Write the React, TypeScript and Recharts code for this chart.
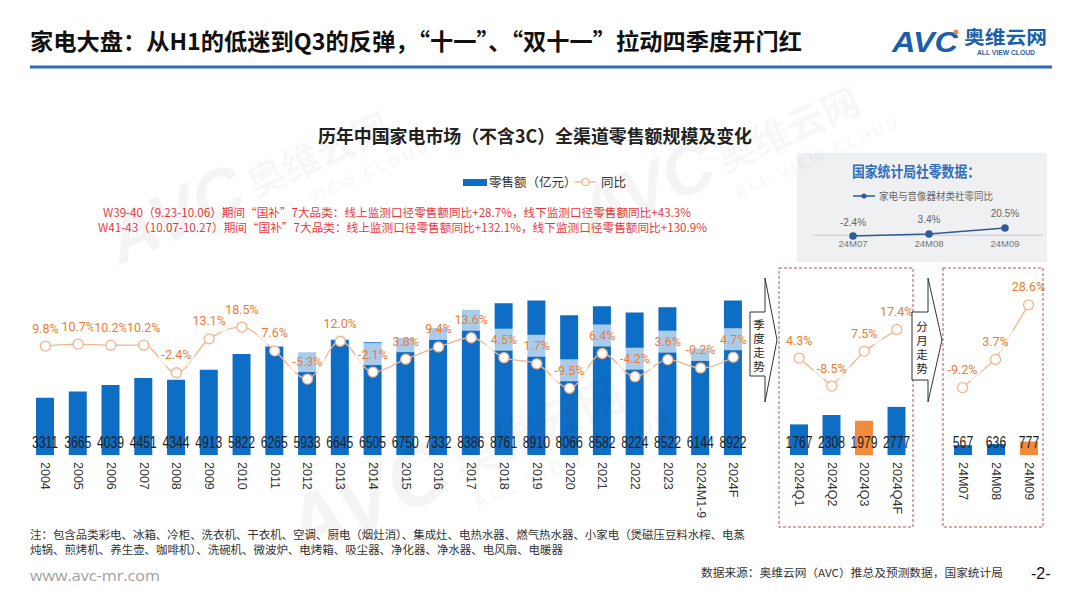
import React from 'react';
import { ComposedChart, LineChart, Bar, Line, XAxis, YAxis, Cell, LabelList, ReferenceLine } from 'recharts';

// 年度
const years = ['2004', '2005', '2006', '2007', '2008', '2009', '2010', '2011', '2012', '2013', '2014', '2015', '2016', '2017', '2018', '2019', '2020', '2021', '2022', '2023', '2024M1-9', '2024F'];
const yearSales = [3311, 3665, 4039, 4451, 4344, 4913, 5822, 6265, 5933, 6645, 6505, 6750, 7332, 8386, 8761, 8910, 8066, 8582, 8224, 8522, 6144, 8922];
const yearYoy = [9.8, 10.7, 10.2, 10.2, -2.4, 13.1, 18.5, 7.6, -5.3, 12.0, -2.1, 3.8, 9.4, 13.6, 4.5, 1.7, -9.5, 6.4, -4.2, 3.6, -0.2, 4.7];

// 季度
const quarters = ['2024Q1', '2024Q2', '2024Q3', '2024Q4F'];
const quarterSales = [1767, 2308, 1979, 2777];
const quarterYoy = [4.3, -8.5, 7.5, 17.4];

// 分月
const months = ['24M07', '24M08', '24M09'];
const monthSales = [567, 636, 777];
const monthYoy = [-9.2, 3.7, 28.6];

// 国家统计局社零
const statMonths = ['24M07', '24M08', '24M09'];
const statYoy = [-2.4, 3.4, 20.5];

const BLUE = '#0E6EC5';
const ORANGE = '#F08C3C';
const PCT = '#EC7C30';
const LINE = '#F2B48A';
const RED = '#E8383D';
const CJK = "'Noto Sans CJK SC', 'Noto Sans', sans-serif";
const NUM = "'Liberation Sans', Arial, sans-serif";

const CatTick = (props: any) => {
  const { x, y, payload } = props;
  return (
    <text
      transform={`translate(${x},${y + 7}) rotate(90)`}
      textAnchor="start"
      dominantBaseline="central"
      fontSize={12.5}
      fill="#333"
      fontFamily={NUM}
    >
      {payload.value}
    </text>
  );
};

const ValueLabel = (props: any) => {
  const { x, y, width, height, value } = props;
  const cx = x + width / 2;
  const cy = y + height - 13;
  return (
    <text
      transform={`translate(${cx},${cy}) scale(0.76,1)`}
      textAnchor="middle"
      dominantBaseline="central"
      fontSize={16}
      fill="#1f1f1f"
      fontFamily={NUM}
    >
      {value}
    </text>
  );
};

const PctLabel = (props: any) => {
  const { x, y, value } = props;
  if (value == null) return null;
  const cy = y - 18;
  return (
    <g>
      <rect x={x - 18} y={cy - 11} width={36} height={22} fill="#fff" fillOpacity={0.65} />
      <text x={x} y={cy} textAnchor="middle" dominantBaseline="central" fill={PCT} fontSize={12.5} fontFamily="Roboto, sans-serif">
        {value.toFixed(1)}%
      </text>
    </g>
  );
};

function Panel({ cats, sales, yoy, hot, left, width, curve }: any) {
  const data = cats.map((c: string, i: number) => ({ cat: c, sales: sales[i], yoy: yoy[i] }));
  return (
    <div style={{ position: 'absolute', left, top: 250 }}>
      <ComposedChart width={width} height={275} data={data} margin={{ top: 30, right: 0, bottom: 0, left: 0 }}>
        <XAxis dataKey="cat" height={70} interval={0} axisLine={false} tickLine={false} tickSize={0} tickMargin={0} tick={<CatTick />} />
        <YAxis yAxisId="v" hide domain={[0, 10100]} />
        <YAxis yAxisId="p" hide orientation="right" domain={[-40, 40]} />
        <Bar yAxisId="v" dataKey="sales" barSize={18} isAnimationActive={false}>
          {data.map((d: any) => (
            <Cell key={d.cat} fill={d.cat === hot ? ORANGE : BLUE} />
          ))}
          <LabelList dataKey="sales" content={<ValueLabel />} />
        </Bar>
        <Line
          yAxisId="p"
          type={curve}
          dataKey="yoy"
          stroke={LINE}
          strokeWidth={1.3}
          dot={{ r: 5, fill: '#fff', stroke: LINE, strokeWidth: 1.3 }}
          isAnimationActive={false}
        >
          <LabelList dataKey="yoy" content={<PctLabel />} />
        </Line>
      </ComposedChart>
    </div>
  );
}

const StatTick = (props: any) => {
  const { x, y, payload } = props;
  return (
    <text x={x} y={y + 5} textAnchor="middle" dominantBaseline="central" fontSize={9.5} fill="#777" fontFamily={NUM}>
      {payload.value}
    </text>
  );
};

const StatLabel = (props: any) => {
  const { x, y, value } = props;
  return (
    <text x={x} y={y - 14} textAnchor="middle" dominantBaseline="central" fontSize={10} fill="#666" fontFamily={NUM}>
      {value.toFixed(1)}%
    </text>
  );
};

function Watermark({ x, y, s }: { x: number; y: number; s: number }) {
  return (
    <g transform={`translate(${x},${y}) rotate(-24) scale(${s})`} fill="#000" fillOpacity={0.045}>
      <text x={0} y={0} fontSize={70} fontWeight={900} fontStyle="italic" fontFamily={NUM}>AVC</text>
      <text x={150} y={-6} fontSize={38} fontWeight={700} fontFamily={CJK}>奥维云网</text>
      <text x={152} y={22} fontSize={16} fontWeight={700} letterSpacing={3} fontFamily={NUM}>ALL VIEW CLOUD</text>
    </g>
  );
}

export default function App() {
  const statData = statMonths.map((m, i) => ({ m, v: statYoy[i] }));
  return (
    <div style={{ position: 'absolute', left: 0, top: 0, width: 1080, height: 608, background: '#fff', overflow: 'hidden', fontFamily: CJK }}>
      {/* 标题与页眉 */}
      <svg width={1080} height={608} style={{ position: 'absolute', left: 0, top: 0 }}>
        <text x={30} y={50} fontSize={23} fontWeight={700} fill="#111" textLength={772} lengthAdjust="spacingAndGlyphs" fontFamily={CJK}>
          家电大盘：从H1的低迷到Q3的反弹，“十一”、“双十一”拉动四季度开门红
        </text>
        <line x1={30} y1={67} x2={1052} y2={67} stroke="#2D6AB1" strokeWidth={3} />
        <text x={892} y={52} fontSize={29} fontWeight={900} fontStyle="italic" fill="#1B5FAA" fontFamily={NUM} textLength={66} lengthAdjust="spacingAndGlyphs">AVC</text>
        <circle cx={956} cy={32} r={2.5} fill="#F08C3C" />
        <text x={964} y={44} fontSize={18} fontWeight={700} fill="#1B5FAA" fontFamily={CJK} textLength={83} lengthAdjust="spacingAndGlyphs">奥维云网</text>
        <text x={977} y={55} fontSize={6.5} fontWeight={700} fill="#1B5FAA" fontFamily={NUM} textLength={58} lengthAdjust="spacingAndGlyphs">ALL VIEW CLOUD</text>

        <text x={535} y={143} textAnchor="middle" fontSize={18} fontWeight={700} fill="#222" textLength={434} lengthAdjust="spacingAndGlyphs" fontFamily={CJK}>
          历年中国家电市场（不含3C）全渠道零售额规模及变化
        </text>

        {/* 图例 */}
        <rect x={463} y={179} width={24} height={7} fill={BLUE} />
        <text x={489} y={187} fontSize={12.5} fill="#333" fontFamily={CJK}>零售额（亿元）</text>
        <line x1={575} y1={182} x2={596} y2={182} stroke={LINE} strokeWidth={1.3} />
        <circle cx={585.5} cy={182} r={3.5} fill="#fff" stroke={LINE} strokeWidth={1.2} />
        <text x={601} y={187} fontSize={12.5} fill="#333" fontFamily={CJK}>同比</text>

        <text x={103} y={217} fontSize={11.5} fill={RED} textLength={588} lengthAdjust="spacingAndGlyphs" fontFamily={CJK}>
          W39-40（9.23-10.06）期间“国补”7大品类：线上监测口径零售额同比+28.7%，线下监测口径零售额同比+43.3%
        </text>
        <text x={98} y={232} fontSize={11.5} fill={RED} textLength={609} lengthAdjust="spacingAndGlyphs" fontFamily={CJK}>
          W41-43（10.07-10.27）期间“国补”7大品类：线上监测口径零售额同比+132.1%，线下监测口径零售额同比+130.9%
        </text>

        {/* 国家统计局社零数据 */}
        <rect x={797} y={153} width={250} height={109} fill="#EFF0F2" />
        <text x={852} y={177} fontSize={14.5} fontWeight={700} fill="#2F6EBA" textLength={128} lengthAdjust="spacingAndGlyphs" fontFamily={CJK}>
          国家统计局社零数据：
        </text>
        <line x1={853} y1={196} x2={875} y2={196} stroke="#2E5A9C" strokeWidth={1.5} />
        <circle cx={864} cy={196} r={2.5} fill="#2E5A9C" />
        <text x={879} y={200} fontSize={10} fill="#666" textLength={114} lengthAdjust="spacingAndGlyphs" fontFamily={CJK}>
          家电与音像器材类社零同比
        </text>

        {/* 脚注 */}
        <text x={30} y={539} fontSize={11.5} fill="#333" textLength={715} lengthAdjust="spacingAndGlyphs" fontFamily={CJK}>
          注：包含品类彩电、冰箱、冷柜、洗衣机、干衣机、空调、厨电（烟灶消）、集成灶、电热水器、燃气热水器、小家电（煲磁压豆料水榨、电蒸
        </text>
        <text x={30} y={554} fontSize={11.5} fill="#333" textLength={533} lengthAdjust="spacingAndGlyphs" fontFamily={CJK}>
          炖锅、煎烤机、养生壶、咖啡机）、洗碗机、微波炉、电烤箱、吸尘器、净化器、净水器、电风扇、电暖器
        </text>
        <text x={30} y={581} fontSize={14.5} fill="#A0A0A0" textLength={130} lengthAdjust="spacingAndGlyphs" fontFamily="'Open Sans', sans-serif">
          www.avc-mr.com
        </text>
        <text x={701} y={577} fontSize={11} fill="#333" textLength={302} lengthAdjust="spacingAndGlyphs" fontFamily={CJK}>
          数据来源：奥维云网（AVC）推总及预测数据，国家统计局
        </text>
        <text x={1031} y={579} fontSize={16} fill="#111" fontFamily={NUM}>-2-</text>
      </svg>

      <Panel cats={years} sales={yearSales} yoy={yearYoy} hot="" left={28.6} width={720.7} curve="monotone" />
      <Panel cats={quarters} sales={quarterSales} yoy={quarterYoy} hot="2024Q3" left={782.75} width={130} curve="linear" />
      <Panel cats={months} sales={monthSales} yoy={monthYoy} hot="24M09" left={945.5} width={99} curve="linear" />

      <div style={{ position: 'absolute', left: 813, top: 190 }}>
        <LineChart width={230} height={68} data={statData} margin={{ top: 10, right: 0, bottom: 0, left: 0 }}>
          <XAxis dataKey="m" height={20} interval={0} axisLine={false} tickLine={false} tickSize={0} tickMargin={0} padding={{ left: 40, right: 38 }} tick={<StatTick />} />
          <YAxis hide domain={[-8, 100]} />
          <ReferenceLine y={0} stroke="#C8C8C8" />
          <Line dataKey="v" stroke="#2E5A9C" strokeWidth={1.5} dot={{ r: 3, fill: '#2E5A9C', stroke: '#2E5A9C' }} isAnimationActive={false}>
            <LabelList dataKey="v" content={<StatLabel />} />
          </Line>
        </LineChart>
      </div>

      {/* 箭头、虚线框、水印 */}
      <svg width={1080} height={608} style={{ position: 'absolute', left: 0, top: 0, pointerEvents: 'none' }}>
        <rect x={779} y={268} width={134} height={259} fill="none" stroke="#B85450" strokeWidth={1} strokeDasharray="3 2" />
        <rect x={943} y={268} width={100} height={259} fill="none" stroke="#B85450" strokeWidth={1} strokeDasharray="3 2" />

        <polygon points="765,278 777,340 765,402 765,376 750,376 750,312 765,312" fill="#fff" stroke="#333" strokeWidth={1} />
        {['季', '度', '走', '势'].map((c, i) => (
          <text key={c} x={759} y={324 + i * 14} textAnchor="middle" dominantBaseline="central" fontSize={11.5} fill="#222" fontFamily={CJK}>{c}</text>
        ))}
        <polygon points="928,278 942,340 928,402 928,380 912,380 912,312 928,312" fill="#fff" stroke="#333" strokeWidth={1} />
        {['分', '月', '走', '势'].map((c, i) => (
          <text key={c} x={922} y={326 + i * 14} textAnchor="middle" dominantBaseline="central" fontSize={11.5} fill="#222" fontFamily={CJK}>{c}</text>
        ))}

        <Watermark x={120} y={265} s={1} />
        <Watermark x={590} y={240} s={1} />
        <Watermark x={300} y={560} s={1.2} />
      </svg>
    </div>
  );
}
